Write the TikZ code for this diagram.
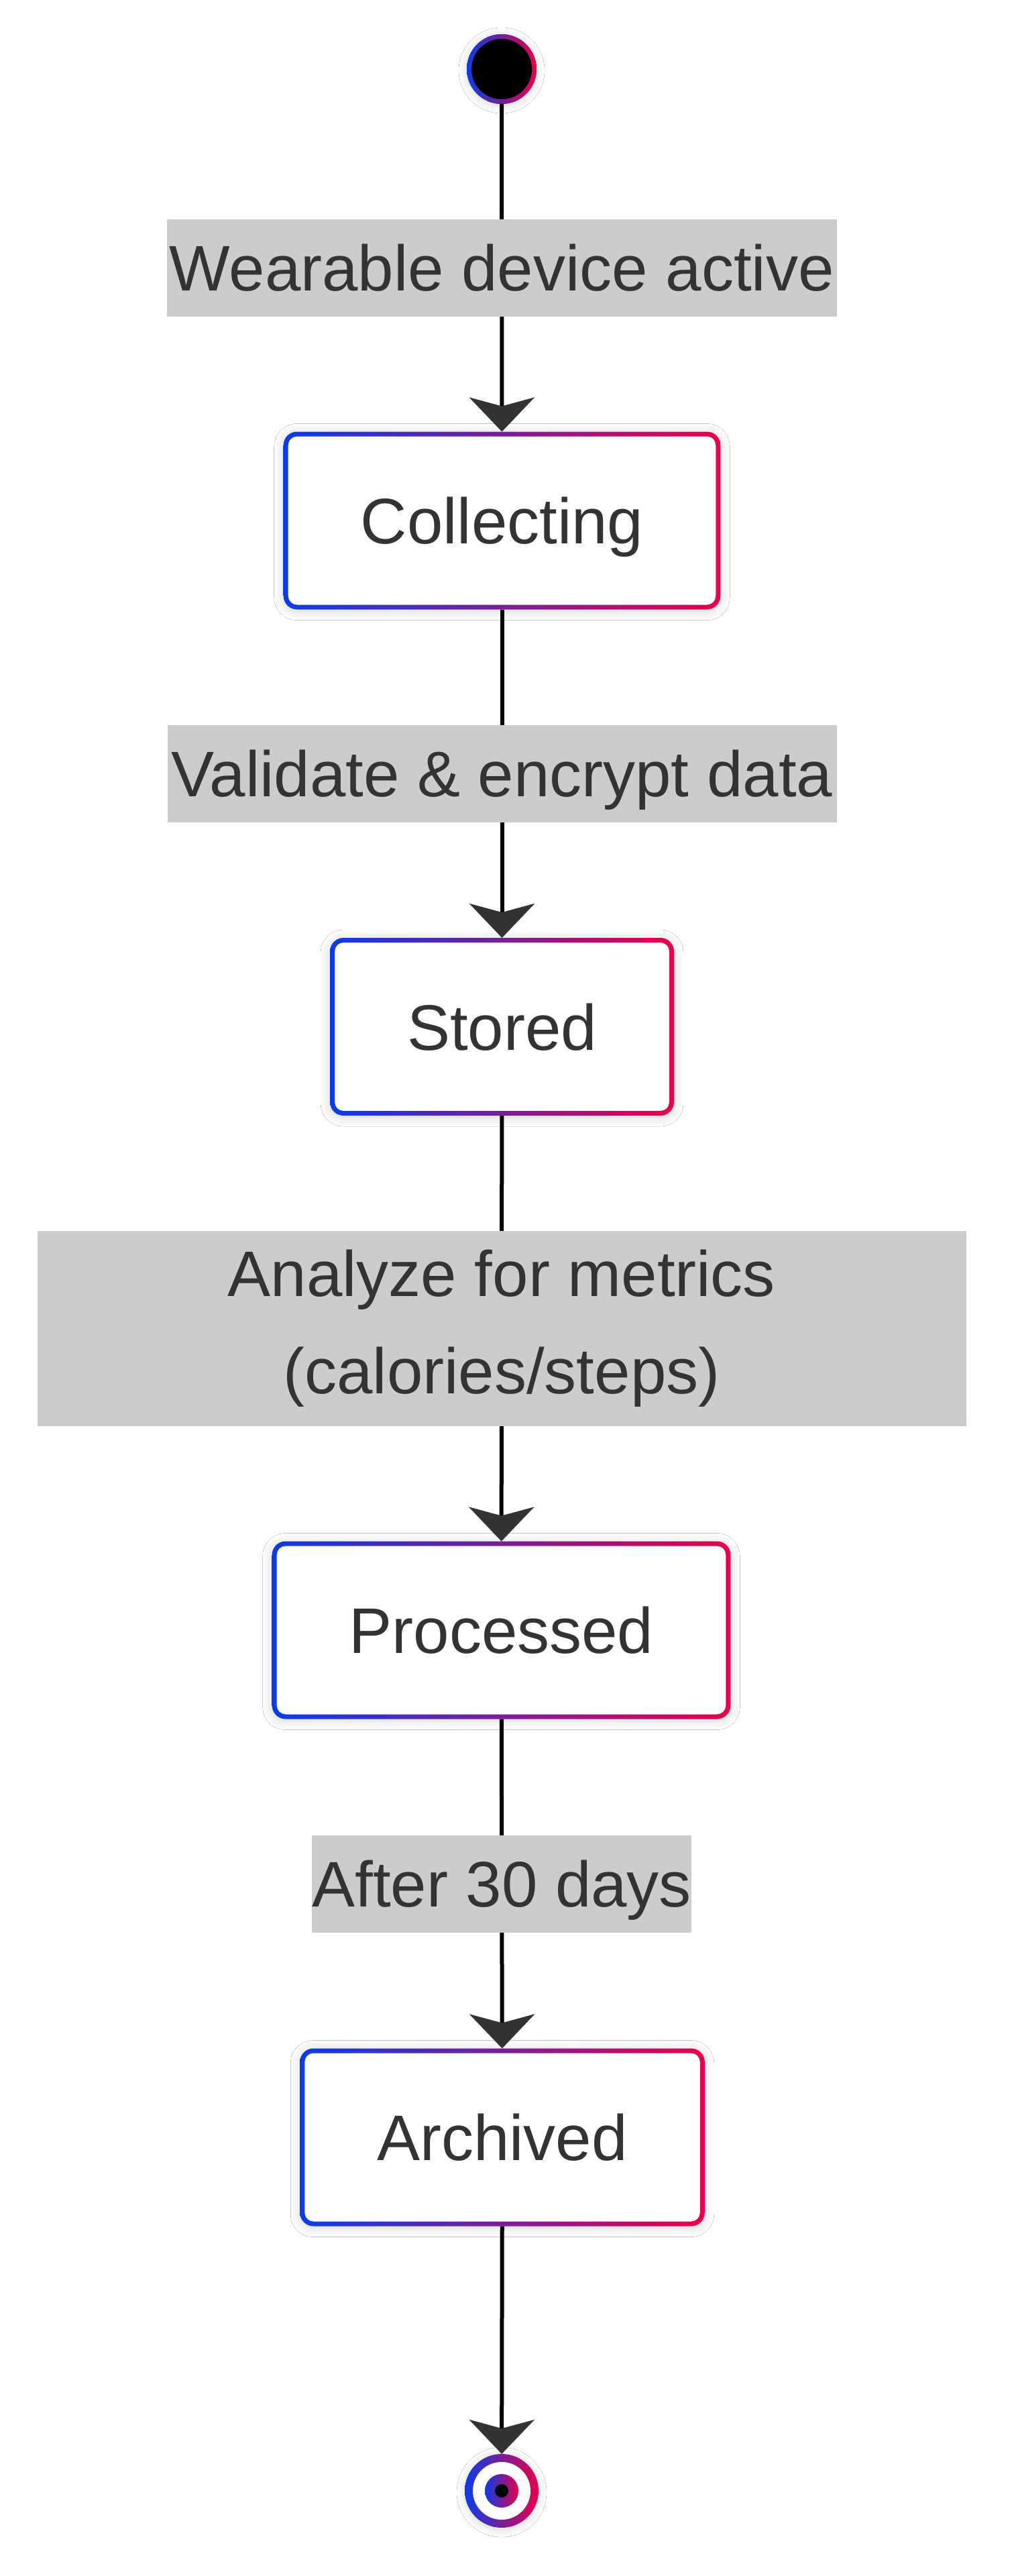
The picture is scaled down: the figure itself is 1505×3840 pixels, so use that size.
\documentclass[tikz,border=0pt]{standalone}
\usepackage{fontspec}
\setmainfont{Liberation Sans}
\usetikzlibrary{arrows.meta,shadows.blur}
\definecolor{cblue}{HTML}{0A3CE6}
\definecolor{cred}{HTML}{E8004A}
\definecolor{ctext}{HTML}{333333}
\definecolor{clbl}{HTML}{CCCCCC}
\newcommand\gradring[1]{%
  \shade[left color=cblue,right color=cred,even odd rule]
    [rounded corners=20pt] (#1.south west) rectangle (#1.north east)
    [rounded corners=13pt] ([shift={(7pt,7pt)}]#1.south west) rectangle ([shift={(-7pt,-7pt)}]#1.north east);}
\begin{document}
\begin{tikzpicture}[x=1pt,y=1pt,
  stateb/.style={rectangle, rounded corners=20pt, fill=white, draw=none, outer sep=0pt,
    inner xsep=115pt, inner ysep=0pt, minimum height=265pt, text height=69pt, text depth=0pt,
    text=ctext, font=\fontsize{96}{115}\selectfont,
    blur shadow={shadow xshift=0pt, shadow yshift=-2pt, shadow blur radius=14pt, shadow opacity=18}},
  lbl/.style={rectangle, fill=clbl, inner sep=0pt, text=ctext, font=\fontsize{96}{145}\selectfont, align=center},
  lblone/.style={lbl, minimum height=145pt, text height=69pt, text depth=0pt},
  flow/.style={line width=6pt, black, -{Stealth[length=51pt,width=97pt,inset=13pt,color=ctext]}},
  dot/.style={circle, draw=none, outer sep=0pt, inner sep=0pt,
    blur shadow={shadow xshift=0pt, shadow yshift=-2pt, shadow blur radius=12pt, shadow opacity=18}}
]
\useasboundingbox (0,0) rectangle (1505,-3840);
\fill[white] (0,0) rectangle (1505,-3840);

% start
\node[dot, minimum size=104pt, fill=black] (start) at (748,-103) {};
\shade[left color=cblue,right color=cred] (start.center) circle[radius=52pt];
\fill[black] (start.center) circle[radius=45pt];

% states
\node[stateb] (col) at (748.5,-776) {Collecting};
\node[stateb] (sto) at (748.5,-1530.5) {Stored};
\node[stateb] (pro) at (747.5,-2430) {Processed};
\node[stateb] (arc) at (749,-3186) {Archived};
\gradring{col}
\gradring{sto}
\gradring{pro}
\gradring{arc}

% end
\node[dot, minimum size=110pt, fill=white] (end) at (748,-3713) {};
\shade[left color=cblue,right color=cred] (end.center) circle[radius=55pt];
\fill[white] (end.center) circle[radius=43pt];
\shade[left color=cblue,right color=cred] (end.center) circle[radius=25pt];
\fill[black] (end.center) circle[radius=10pt];

% transitions
\draw[flow] (start) -- node[lblone, minimum width=999pt] {Wearable device active} (col);
\draw[flow] (col) -- node[lblone, minimum width=998pt] {Validate \& encrypt data} (sto);
\draw[flow] (sto) -- node[lbl, minimum width=1385pt, minimum height=291pt] {Analyze for metrics\\(calories/steps)} (pro);
\draw[flow] (pro) -- node[lblone] {After 30 days} (arc);
\draw[flow] (arc) -- (end);
\end{tikzpicture}
\end{document}
